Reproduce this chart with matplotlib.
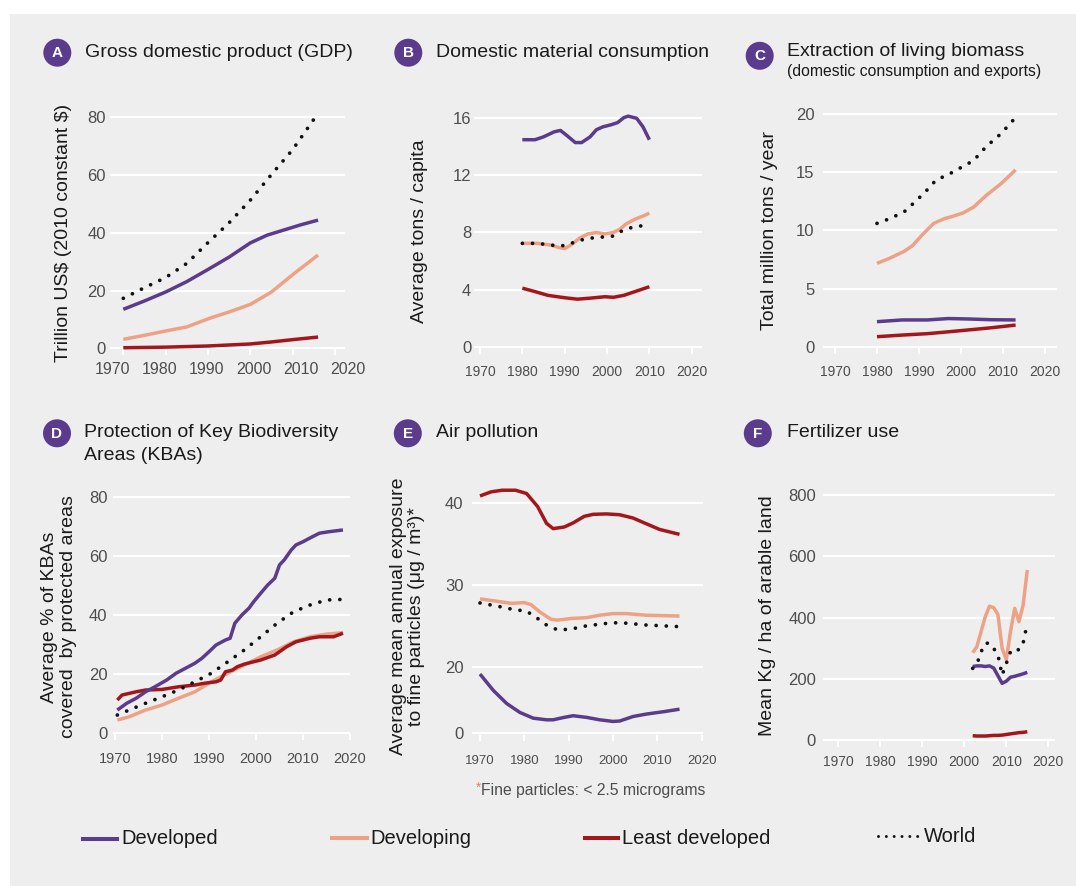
import matplotlib
matplotlib.use('Agg')
import matplotlib.pyplot as plt
from matplotlib.patches import Rectangle, Ellipse
from matplotlib.lines import Line2D

# ---------------- data ----------------
# A: GDP (trillion US$, 2010 constant)
a_yr_wld = [1970, 1975, 1980, 1985, 1990, 1995, 2000, 2005, 2010, 2016]
a_wld = [17.3, 21.0, 24.5, 29.4, 36.6, 43.5, 51.3, 60.2, 68.8, 81.4]
a_yr_dev = [1970, 1975, 1980, 1985, 1990, 1995, 2000, 2004, 2008, 2012, 2016]
a_dev = [13.5, 16.4, 19.5, 23.1, 27.3, 31.6, 36.5, 39.2, 41.0, 42.8, 44.4]
a_yr_dvg = [1970, 1975, 1980, 1985, 1990, 1995, 2000, 2005, 2010, 2016]
a_dvg = [3.1, 4.5, 6.0, 7.4, 10.2, 12.6, 15.2, 19.5, 25.5, 32.3]
a_yr_ldc = [1970, 1980, 1990, 2000, 2005, 2010, 2016]
a_ldc = [0.2, 0.4, 0.8, 1.5, 2.2, 3.0, 3.9]

# B: Domestic material consumption (tons / capita)
b_yr_dev = [1980, 1983, 1985, 1987.5, 1989, 1990.5, 1992.5, 1994, 1996, 1997.5, 1999,
            2001, 2002.5, 2004, 2005, 2007, 2008.5, 2010]
b_dev = [14.5, 14.5, 14.7, 15.05, 15.15, 14.8, 14.3, 14.3, 14.7, 15.2, 15.4,
         15.55, 15.7, 16.05, 16.15, 16.0, 15.4, 14.5]
b_yr_dvg = [1980, 1983.5, 1986.5, 1988.5, 1990, 1991.5, 1993.5, 1995.5, 1997.5, 1999.5,
            2001.5, 2003, 2004.5, 2006.5, 2008.5, 2010]
b_dvg = [7.24, 7.24, 7.13, 6.96, 6.87, 7.13, 7.6, 7.9, 8.0, 7.9, 8.0, 8.22, 8.6, 8.92, 9.15, 9.35]
b_yr_wld = [1980, 1983.5, 1986.5, 1989, 1990.5, 1993.5, 1996, 1999.5, 2001.5, 2004, 2006.5, 2009]
b_wld = [7.24, 7.24, 7.13, 7.05, 7.13, 7.45, 7.6, 7.7, 7.75, 8.2, 8.4, 8.5]
b_yr_ldc = [1980, 1983, 1986, 1990, 1993, 1996, 1999.5, 2001.5, 2004, 2007, 2010]
b_ldc = [4.1, 3.86, 3.6, 3.43, 3.33, 3.4, 3.5, 3.46, 3.6, 3.9, 4.2]

# C: Extraction of living biomass (million tons / year)
c_yr_wld = [1980, 1983, 1986.5, 1989.5, 1992, 1994, 1997.5, 2000.5, 2003, 2006, 2009.5, 2013]
c_wld = [10.6, 11.0, 11.6, 12.6, 13.5, 14.3, 14.9, 15.5, 16.0, 17.2, 18.3, 19.7]
c_yr_dvg = [1980, 1983, 1986.5, 1988.5, 1991, 1993.5, 1996, 1998, 2000.5, 2003, 2006, 2009.5, 2013]
c_dvg = [7.16, 7.6, 8.2, 8.7, 9.7, 10.6, 11.0, 11.2, 11.5, 12.0, 13.0, 14.0, 15.2]
c_yr = [1980, 1986, 1992, 1997, 2002, 2007, 2013]
c_dev = [2.15, 2.3, 2.3, 2.42, 2.38, 2.32, 2.3]
c_ldc = [0.86, 1.0, 1.12, 1.28, 1.45, 1.62, 1.86]

# D: Protection of KBAs (%)
d_yr_dev = [1970.5, 1972.5, 1974.5, 1976.5, 1978.5, 1981, 1983, 1985, 1987, 1988.5, 1990,
            1991.5, 1993.5, 1994.5, 1995.5, 1997, 1998.5, 1999.5, 2001, 2002.5, 2004, 2005,
            2006, 2007.5, 2008.5, 2010, 2012, 2013.5, 2015.5, 2018.5]
d_dev = [7.7, 10, 11.7, 13.9, 15.6, 17.9, 20.2, 21.9, 23.6, 25.3, 27.5, 29.8, 31.5, 32.1,
         37.2, 40, 42.3, 44.5, 47.4, 50.2, 52.5, 57, 58.7, 62.1, 63.8, 64.9, 66.6, 67.8, 68.3, 68.9]
d_yr = [1970.5, 1973, 1976.5, 1980, 1983.5, 1987, 1990.5, 1994, 1997.5, 2001, 2004.5,
        2008, 2011.5, 2015, 2018.5]
d_wld = [6.0, 7.7, 10.0, 12.2, 14.5, 17.3, 20.2, 24.1, 28.1, 32.6, 37.2, 41.1, 43.4, 45.1, 45.3]
d_dvg = [4.3, 5.4, 7.7, 9.4, 11.7, 13.9, 17.3, 20.2, 23.0, 25.8, 28.1, 30.9, 32.6, 33.5, 34.0]
d_yr_ldc = [1970.5, 1971.5, 1974.5, 1976.5, 1980, 1983.5, 1987, 1989, 1991.5, 1992.5, 1993.5,
            1995, 1996, 1997.5, 2001, 2004, 2006.5, 2008.5, 2011.5, 2013.5, 2016.5, 2018.5]
d_ldc = [11.1, 12.8, 13.9, 14.5, 14.7, 15.6, 16.2, 16.8, 17.3, 17.9, 20.7, 21.3, 22.4, 23.3,
         24.7, 26.4, 29.2, 30.9, 32.1, 32.6, 32.6, 33.8]

# E: Air pollution (axis shows 0 at the position of 11.84: broken axis)
e_ticks = [11.84, 20, 30, 40]
e_ticklabels = ['0', '20', '30', '40']
e_yr_ldc = [1970, 1972.5, 1975, 1978, 1980.5, 1983, 1985, 1986.5, 1989, 1991, 1993.5,
            1995.5, 1998.5, 2001.5, 2004.5, 2007.5, 2010.5, 2015]
e_ldc = [40.9, 41.4, 41.6, 41.6, 41.2, 39.6, 37.55, 36.9, 37.1, 37.6, 38.4, 38.65, 38.7,
         38.6, 38.2, 37.5, 36.8, 36.2]
e_yr_dvg = [1970, 1974, 1977, 1980, 1981.5, 1983.5, 1986, 1987.5, 1990.5, 1994, 1997,
            2000, 2003, 2007.5, 2015]
e_dvg = [28.3, 28.0, 27.75, 27.85, 27.6, 26.7, 25.8, 25.7, 25.9, 26.0, 26.3, 26.5, 26.5, 26.3, 26.2]
e_yr_wld = [1970, 1974, 1977.5, 1980.5, 1983, 1985, 1987.5, 1990.5, 1994, 1998.5, 2001.5, 2007.5, 2015]
e_wld = [27.8, 27.4, 27.0, 26.8, 25.9, 25.1, 24.5, 24.6, 25.0, 25.3, 25.4, 25.1, 24.9]
e_yr_dev = [1970, 1973, 1976, 1979, 1982, 1985, 1986.5, 1989, 1991, 1994, 1997, 2000,
            2001.5, 2004.5, 2007.5, 2011.5, 2015]
e_dev = [19.1, 17.1, 15.5, 14.4, 13.7, 13.5, 13.5, 13.8, 14.0, 13.8, 13.5, 13.3, 13.35,
         13.9, 14.2, 14.5, 14.8]

# F: Fertilizer use (kg / ha)
f_yr = [2002, 2003, 2004, 2005, 2006, 2007, 2008, 2009, 2010, 2011, 2012, 2013, 2014, 2015]
f_dvg = [285, 305, 354, 403, 437, 432, 410, 300, 262, 354, 430, 386, 440, 555]
f_wld = [234, 248, 288, 316, 316, 299, 278, 212, 250, 288, 299, 294, 316, 381]
f_dev = [240, 242, 242, 240, 242, 235, 210, 185, 192, 205, 208, 212, 216, 221]
f_ldc = [14, 13, 13, 13, 14, 15, 15, 16, 18, 20, 22, 24, 25, 27]

x_years = [1970, 1980, 1990, 2000, 2010, 2020]
x_labels = ['1970', '1980', '1990', '2000', '2010', '2020']

legend_names = ['Developed', 'Developing', 'Least developed', 'World']

# ---------------- style ----------------
W, H = 1076, 886
plt.rcParams['font.family'] = ['Liberation Sans', 'DejaVu Sans']
PURPLE = '#5b3b8c'
SALMON = '#eda285'
RED = '#a3161c'
BLACK = '#111111'
BG = '#eeeeee'
TICK = '#4d4d4d'
TXT = '#1a1a1a'
LW = 2.5
DOT_LW = 2.7
DOT = (0, (0.01, 2.7))

fig = plt.figure(figsize=(W / 100, H / 100), dpi=100)
fig.patch.set_facecolor('white')
fig.add_artist(Rectangle((10 / W, 0), 1 - 10 / W, 1 - 14 / H, transform=fig.transFigure,
                         facecolor=BG, edgecolor='none', zorder=0))


def ftext(x, y, s, **kw):
    return fig.text(x / W, 1 - y / H, s, **kw)


def make_ax(box, xref, yref, xpad, xsize, ypad):
    l, t, r, b = box
    (xv1, xp1), (xv2, xp2) = xref
    sx = (xv2 - xv1) / (xp2 - xp1)
    (yv1, yp1), (yv2, yp2) = yref
    sy = (yv2 - yv1) / (yp2 - yp1)
    ax = fig.add_axes([l / W, 1 - b / H, (r - l) / W, (b - t) / H])
    ax.set_xlim(xv1 + (l - xp1) * sx, xv1 + (r - xp1) * sx)
    ax.set_ylim(yv1 + (b - yp1) * sy, yv1 + (t - yp1) * sy)
    ax.set_facecolor('none')
    for s in ax.spines.values():
        s.set_visible(False)
    ax.grid(axis='y', color='white', lw=1.6)
    ax.grid(axis='x', visible=False)
    ax.set_axisbelow(True)
    ax.tick_params(axis='y', length=0, pad=ypad, labelsize=12, labelcolor=TICK)
    ax.tick_params(axis='x', length=4, width=1.5, color='white', direction='out',
                   pad=xpad, labelsize=xsize, labelcolor=TICK)
    ax.set_xticks(x_years)
    ax.set_xticklabels(x_labels)
    return ax


def draw(ax, series):
    for xs, ys, kind in series:
        if kind == 'wld':
            ax.plot(xs, ys, color=BLACK, lw=DOT_LW, linestyle=DOT,
                    dash_capstyle='round', zorder=5, clip_on=False)
        else:
            c = {'dev': PURPLE, 'dvg': SALMON, 'ldc': RED}[kind]
            ax.plot(xs, ys, color=c, lw=LW, solid_capstyle='butt',
                    solid_joinstyle='round', zorder=4, clip_on=False)


def badge(x, y, letter):
    fig.add_artist(Ellipse((x / W, 1 - y / H), 28 / W, 28 / H, transform=fig.transFigure,
                           facecolor=PURPLE, edgecolor='none', zorder=3))
    ftext(x, y + 0.5, letter, color='white', fontsize=11, fontweight='bold',
          ha='center', va='center', zorder=4)


# ---------------- Panel A ----------------
axA = make_ax((110, 100, 345, 349), ((1970, 123.3), (2020, 335)), ((0, 348.3), (80, 117.3)),
              7, 11, 3)
axA.set_yticks([0, 20, 40, 60, 80])
axA.set_xticklabels([''] * len(x_labels))
draw(axA, [(a_yr_dvg, a_dvg, 'dvg'), (a_yr_ldc, a_ldc, 'ldc'),
           (a_yr_dev, a_dev, 'dev'), (a_yr_wld, a_wld, 'wld')])
for i, lab in enumerate(x_labels):
    ftext(112.3 + 47.2 * i, 369, lab, fontsize=11.5, color=TICK, ha='center', va='center')
badge(57.3, 52.7, 'A')
ftext(85, 52.7, 'Gross domestic product (GDP)', fontsize=14, color=TXT, va='center')
ftext(63, 233, 'Trillion US\\$ (2010 constant \\$)', fontsize=14, color=TXT, rotation=90,
      ha='center', va='center')

# ---------------- Panel B ----------------
axB = make_ax((474, 100, 701.7, 348), ((1970, 480), (2020, 691.7)), ((0, 346.7), (16, 118.3)),
              8, 10, 2)
axB.set_yticks([0, 4, 8, 12, 16])
draw(axB, [(b_yr_ldc, b_ldc, 'ldc'), (b_yr_dvg, b_dvg, 'dvg'),
           (b_yr_dev, b_dev, 'dev'), (b_yr_wld, b_wld, 'wld')])
badge(408.3, 52.7, 'B')
ftext(436, 52.7, 'Domestic material consumption', fontsize=14, color=TXT, va='center')
ftext(420, 231, 'Average tons / capita', fontsize=14, color=TXT, rotation=90,
      ha='center', va='center')

# ---------------- Panel C ----------------
axC = make_ax((823, 100, 1057, 348), ((1970, 835), (2020, 1045)), ((0, 346.7), (20, 114)),
              8, 10, 6)
axC.set_yticks([0, 5, 10, 15, 20])
draw(axC, [(c_yr, c_ldc, 'ldc'), (c_yr, c_dev, 'dev'),
           (c_yr_dvg, c_dvg, 'dvg'), (c_yr_wld, c_wld, 'wld')])
badge(759.7, 55.8, 'C')
ftext(787, 51.7, 'Extraction of living biomass', fontsize=14, color=TXT, va='center')
ftext(787, 71.7, '(domestic consumption and exports)', fontsize=11.3, color=TXT, va='center')
ftext(770, 231, 'Total million tons / year', fontsize=14, color=TXT, rotation=90,
      ha='center', va='center')

# ---------------- Panel D ----------------
axD = make_ax((113, 480, 350, 734), ((1970, 115), (2010, 306)), ((0, 732.7), (80, 497.3)),
              9, 10.5, 4)
axD.set_yticks([0, 20, 40, 60, 80])
draw(axD, [(d_yr, d_dvg, 'dvg'), (d_yr_ldc, d_ldc, 'ldc'),
           (d_yr_dev, d_dev, 'dev'), (d_yr, d_wld, 'wld')])
badge(57, 433.3, 'D')
ftext(84, 433, 'Protection of Key Biodiversity', fontsize=14, color=TXT, va='center')
ftext(84, 455, 'Areas (KBAs)', fontsize=14, color=TXT, va='center')
ftext(59, 617, 'Average % of KBAs\ncovered  by protected areas', fontsize=14, color=TXT,
      rotation=90, ha='center', va='center', multialignment='center', linespacing=1.12)

# ---------------- Panel E ----------------
axE = make_ax((471.7, 480, 703, 734.5), ((1970, 480), (2020, 701.7)), ((20, 666.7), (40, 503.3)),
              11, 9.5, 6)
axE.set_yticks(e_ticks)
axE.set_yticklabels(e_ticklabels)
draw(axE, [(e_yr_ldc, e_ldc, 'ldc'), (e_yr_dvg, e_dvg, 'dvg'),
           (e_yr_dev, e_dev, 'dev'), (e_yr_wld, e_wld, 'wld')])
badge(407.8, 433.3, 'E')
ftext(436, 433, 'Air pollution', fontsize=14, color=TXT, va='center')
ftext(407.5, 616, 'Average mean annual exposure\nto fine particles (μg / m³)*', fontsize=14,
      color=TXT, rotation=90, ha='center', va='center', multialignment='center',
      linespacing=1.1)
ftext(476, 788, '*', fontsize=10, color='#e8805a', va='center')
ftext(481, 790, 'Fine particles: < 2.5 micrograms', fontsize=11.3, color='#4d4d4d', va='center')

# ---------------- Panel F ----------------
axF = make_ax((823, 480, 1055, 741), ((1970, 838.3), (2020, 1048.3)), ((0, 740), (800, 495)),
              6, 10, 5)
axF.set_yticks([0, 200, 400, 600, 800])
draw(axF, [(f_yr, f_ldc, 'ldc'), (f_yr, f_dvg, 'dvg'),
           (f_yr, f_dev, 'dev'), (f_yr, f_wld, 'wld')])
badge(757.8, 433.3, 'F')
ftext(787, 433, 'Fertilizer use', fontsize=14, color=TXT, va='center')
ftext(768, 616, 'Mean Kg / ha of arable land', fontsize=14, color=TXT, rotation=90,
      ha='center', va='center')

# ---------------- Legend ----------------
leg_specs = [
    (83.3, 116.7, 838.5, 121.5, 844.5, PURPLE, '-'),
    (331.7, 366.7, 838.0, 370, 844.5, SALMON, '-'),
    (585, 618.3, 837.5, 622.5, 844.5, RED, '-'),
    (878.3, 918.3, 835.5, 924, 841.5, BLACK, ':'),
]
for (x0, x1, ly, tx, ty, col, st), name in zip(leg_specs, legend_names):
    if st == ':':
        fig.add_artist(Line2D([x0 / W, x1 / W], [1 - ly / H, 1 - ly / H], color=col,
                              lw=DOT_LW * 0.8, linestyle=(0, (0.01, 2.6)),
                              dash_capstyle='round', transform=fig.transFigure))
    else:
        fig.add_artist(Line2D([x0 / W, x1 / W], [1 - ly / H, 1 - ly / H], color=col,
                              lw=LW + 0.4, transform=fig.transFigure))
    ftext(tx, ty, name, fontsize=14.5, color=TXT, va='baseline')

fig.savefig('out.png', dpi=100, facecolor=fig.get_facecolor())
